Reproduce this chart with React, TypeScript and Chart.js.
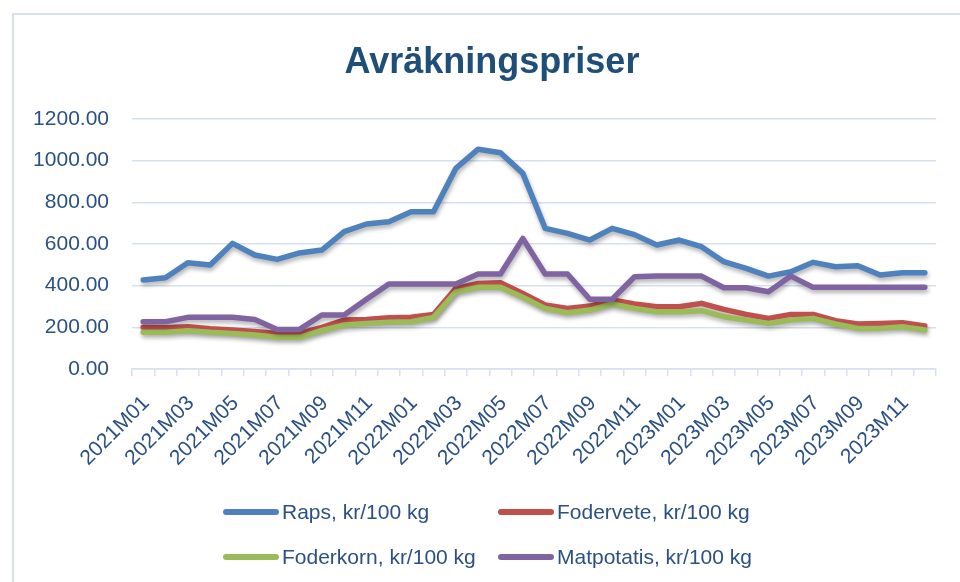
import React, { useEffect, useRef } from "react";
import { Chart, registerables } from "chart.js";

Chart.register(...registerables);

const months = [
  "2021M01", "2021M02", "2021M03", "2021M04", "2021M05", "2021M06",
  "2021M07", "2021M08", "2021M09", "2021M10", "2021M11", "2021M12",
  "2022M01", "2022M02", "2022M03", "2022M04", "2022M05", "2022M06",
  "2022M07", "2022M08", "2022M09", "2022M10", "2022M11", "2022M12",
  "2023M01", "2023M02", "2023M03", "2023M04", "2023M05", "2023M06",
  "2023M07", "2023M08", "2023M09", "2023M10", "2023M11", "2023M12",
];

const raps = [
  427, 438, 510, 499, 603, 547, 526, 557, 571, 659, 696, 707,
  755, 755, 963, 1055, 1038, 939, 675, 651, 619, 675, 645, 595,
  619, 587, 515, 483, 446, 467, 512, 491, 496, 451, 462, 462,
];
const fodervete = [
  200, 198, 203, 193, 187, 180, 171, 171, 200, 235, 238, 246,
  248, 262, 387, 411, 414, 363, 307, 291, 302, 331, 312, 299,
  299, 315, 286, 262, 243, 262, 262, 232, 216, 219, 222, 206,
];
const foderkorn = [
  176, 176, 184, 176, 171, 163, 152, 152, 185, 211, 219, 224,
  227, 248, 371, 392, 392, 344, 291, 270, 283, 312, 291, 275,
  275, 280, 251, 235, 219, 235, 243, 216, 195, 195, 203, 187,
];
const matpotatis = [
  227, 227, 248, 248, 248, 238, 190, 190, 259, 259, 335, 408,
  408, 408, 408, 456, 456, 627, 456, 456, 335, 335, 443, 446,
  446, 446, 390, 390, 371, 446, 392, 392, 392, 392, 392, 392,
];

const seriesNames = [
  "Raps, kr/100 kg",
  "Fodervete, kr/100 kg",
  "Foderkorn, kr/100 kg",
  "Matpotatis, kr/100 kg",
];
const seriesColors = ["#4f81bd", "#c0504d", "#9bbb59", "#8064a2"];
const seriesData = [raps, fodervete, foderkorn, matpotatis];

const titleText = "Avräkningspriser";
const FONT = "'Liberation Sans', Arial, sans-serif";
const TEXT_COLOR = "#2b5184";
const TITLE_COLOR = "#1f4e79";
const GRID_COLOR = "#d5e0f1";

const shadowPlugin = {
  id: "lineShadow",
  beforeDatasetDraw(chart: any) {
    const c = chart.ctx;
    c.save();
    c.shadowColor = "rgba(0,0,0,0.3)";
    c.shadowBlur = 4;
    c.shadowOffsetX = 1;
    c.shadowOffsetY = 3;
  },
  afterDatasetDraw(chart: any) {
    chart.ctx.restore();
  },
};

const titlePlugin = {
  id: "chartTitleText",
  afterDraw(chart: any) {
    const c = chart.ctx;
    c.save();
    c.font = `bold 36px ${FONT}`;
    c.fillStyle = TITLE_COLOR;
    c.textAlign = "center";
    c.textBaseline = "middle";
    c.fillText(titleText, 492, 63);
    c.restore();
  },
};

export default function App() {
  const ref = useRef<HTMLCanvasElement | null>(null);

  useEffect(() => {
    if (!ref.current) return;
    const chart = new Chart(ref.current, {
      type: "line",
      data: {
        labels: months,
        datasets: seriesData.map((d, i) => ({
          label: seriesNames[i],
          data: d,
          borderColor: seriesColors[i],
          backgroundColor: seriesColors[i],
          borderWidth: 5.5,
          pointRadius: 0,
          tension: 0,
          borderJoinStyle: "round" as const,
          borderCapStyle: "round" as const,
          order: 4 - i,
        })),
      },
      options: {
        responsive: false,
        animation: false,
        layout: { padding: { left: 20, right: 24, top: 119, bottom: 100 } },
        plugins: {
          legend: { display: false },
          tooltip: { enabled: false },
          title: { display: false },
        },
        scales: {
          x: {
            offset: true,
            grid: {
              offset: true,
              drawOnChartArea: false,
              drawTicks: true,
              tickLength: 7,
              color: GRID_COLOR,
              lineWidth: 1.5,
            },
            border: { display: true, color: GRID_COLOR, width: 1.5 },
            ticks: {
              autoSkip: false,
              maxRotation: 45,
              minRotation: 45,
              padding: 15,
              labelOffset: 3,
              color: TEXT_COLOR,
              font: { family: FONT, size: 21 },
              callback: function (this: any, val: any, index: number) {
                return index % 2 === 0 ? this.getLabelForValue(val) : "";
              },
            },
            afterFit: (s: any) => {
              s.height = 113;
            },
          },
          y: {
            min: 0,
            max: 1200,
            grid: { drawTicks: false, color: GRID_COLOR, lineWidth: 1.5 },
            border: { display: false },
            ticks: {
              stepSize: 200,
              padding: 23,
              color: TEXT_COLOR,
              font: { family: FONT, size: 21 },
              callback: (v: any) => Number(v).toFixed(2),
            },
            afterFit: (s: any) => {
              s.width = 112;
            },
          },
        },
      },
      plugins: [shadowPlugin, titlePlugin],
    });
    return () => chart.destroy();
  }, []);

  const legendPos = [
    { left: 223, top: 512 },
    { left: 498, top: 512 },
    { left: 223, top: 557 },
    { left: 498, top: 557 },
  ];

  return (
    <div
      style={{
        position: "absolute",
        left: 0,
        top: 0,
        width: 960,
        height: 582,
        overflow: "hidden",
        background: "#ffffff",
      }}
    >
      <div
        style={{
          position: "absolute",
          left: 12,
          top: 13,
          width: 960,
          height: 600,
          borderLeft: `2px solid ${GRID_COLOR}`,
          borderTop: `2px solid ${GRID_COLOR}`,
        }}
      />
      <canvas
        ref={ref}
        width={960}
        height={582}
        style={{ position: "absolute", left: 0, top: 0, width: 960, height: 582 }}
      />
      {seriesNames.map((name, i) => (
        <div
          key={name}
          style={{
            position: "absolute",
            left: legendPos[i].left,
            top: legendPos[i].top - 15,
            height: 30,
            display: "flex",
            alignItems: "center",
            fontFamily: FONT,
            fontSize: 21,
            color: TEXT_COLOR,
            whiteSpace: "nowrap",
          }}
        >
          <span
            style={{
              display: "inline-block",
              width: 56,
              height: 6,
              borderRadius: 3,
              background: seriesColors[i],
              marginRight: 3,
            }}
          />
          <span>{name}</span>
        </div>
      ))}
    </div>
  );
}
